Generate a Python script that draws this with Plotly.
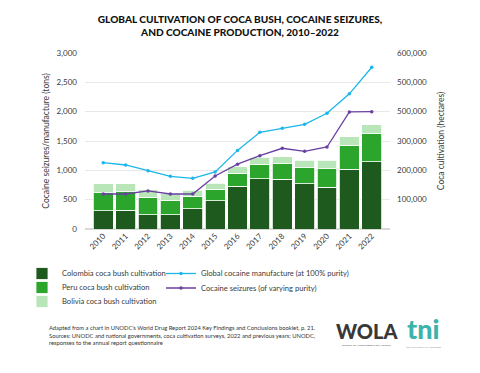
import plotly.graph_objects as go

years = [str(y) for y in range(2010, 2023)]
colombia_ha = [62000, 64000, 48000, 48000, 69000, 96000, 146000, 171000, 169000, 154000, 143000, 204000, 230000]
peru_ha = [61200, 62500, 60400, 49800, 42900, 40300, 43900, 49900, 54100, 54700, 61800, 80700, 95000]
bolivia_ha = [31000, 27200, 25300, 23000, 20400, 20200, 23100, 24500, 23100, 25500, 29400, 30500, 29900]
manufacture_t = [1130, 1091, 994, 898, 864, 972, 1340, 1649, 1717, 1785, 1973, 2304, 2757]
seizures_t = [597, 597, 648, 597, 597, 904, 1105, 1250, 1376, 1325, 1398, 1995, 2000]

left_tickvals = [0, 500, 1000, 1500, 2000, 2500, 3000]
left_ticktext = ["0", "500", "1,000", "1,500", "2,000", "2,500", "3,000"]
right_tickvals = [100000, 200000, 300000, 400000, 500000, 600000]
right_ticktext = ["100,000", "200,000", "300,000", "500,000", "500,000", "600,000"]

FONT = "Lato"
TXT = "#3a3a3a"

# page body adds an 8px offset; work in reference-pixel coordinates
OFF = 8
W, H = 480 - OFF, 373 - OFF
PL, PR, PT, PB = 85, 390, 53, 229          # plot area in reference pixels
L, R, T, B = PL - OFF, W - (PR - OFF), PT - OFF, H - (PB - OFF)
pw, ph = PR - PL, PB - PT

def px(xp):
    return (xp - PL) / pw

def py(yp):
    return (PB - yp) / ph

fig = go.Figure()
bar_specs = [
    ("Colombia coca bush cultivation", colombia_ha, "#1e5a1e", "legend", 273.5),
    ("Peru coca bush cultivation", peru_ha, "#2ba52b", "legend2", 287.5),
    ("Bolivia coca bush cultivation", bolivia_ha, "#b8e6b8", "legend3", 301.5),
]
for name, vals, col, lg, _ in bar_specs:
    fig.add_trace(go.Bar(
        x=years, y=vals, name=name, yaxis="y", legend=lg,
        marker=dict(color=col, line=dict(color="white", width=0.8)),
    ))

line_specs = [
    ("Global cocaine manufacture (at 100% purity)", manufacture_t, "#1bb6ea", "legend4", 273.5),
    ("Cocaine seizures (of varying purity)", seizures_t, "#6a3fa3", "legend5", 288),
]
for name, vals, col, lg, _ in line_specs:
    fig.add_trace(go.Scatter(
        x=years, y=vals, name=name, yaxis="y2", legend=lg, mode="lines+markers",
        line=dict(color=col, width=1.3), marker=dict(size=3.5, color=col),
    ))

legends = {}
for _, _, _, lg, yy in bar_specs:
    legends[lg] = dict(x=px(22), y=py(yy), xanchor="left", yanchor="middle",
                       font=dict(size=7.6, color=TXT), bgcolor="rgba(0,0,0,0)", borderwidth=0)
for _, _, _, lg, yy in line_specs:
    legends[lg] = dict(x=px(161), y=py(yy), xanchor="left", yanchor="middle",
                       font=dict(size=7.6, color=TXT), bgcolor="rgba(0,0,0,0)", borderwidth=0)

annotations = [
    dict(text="Adapted from a chart in UNODC\u2019s World Drug Report 2024 Key Findings and Conclusions booklet, p. 21.<br>"
              "Sources: UNODC and national governments, coca cultivation surveys, 2022 and previous years; UNODC,<br>"
              "responses to the annual report questionnaire",
         x=px(47), y=py(335), xref="paper", yref="paper", xanchor="left", yanchor="middle",
         align="left", showarrow=False, font=dict(family=FONT, size=5.8, color="#333")),
    dict(text="WOLA", x=px(366.5), y=py(330.5), xref="paper", yref="paper",
         xanchor="center", yanchor="middle", showarrow=False,
         font=dict(family="Lato", size=20, color="#383838", weight=900)),
    dict(text="Advocacy for Human Rights in the Americas", x=px(366.5), y=py(345), xref="paper", yref="paper",
         xanchor="center", yanchor="middle", showarrow=False,
         font=dict(family=FONT, size=2.6, color="#555")),
    dict(text="tni", x=px(423), y=py(328.5), xref="paper", yref="paper",
         xanchor="center", yanchor="middle", showarrow=False,
         font=dict(family="Lato", size=27, color="#3db3ac", weight=900)),
    dict(text="TRANSNATIONAL INSTITUTE", x=px(423), y=py(347), xref="paper", yref="paper",
         xanchor="center", yanchor="middle", showarrow=False,
         font=dict(family=FONT, size=2.6, color="#888")),
]

fig.update_layout(
    width=W, height=H,
    margin=dict(l=L, r=R, t=T, b=B, pad=0, autoexpand=False),
    paper_bgcolor="white", plot_bgcolor="white",
    font=dict(family=FONT, size=8, color=TXT),
    barmode="stack", bargap=0.11,
    title=dict(text="GLOBAL CULTIVATION OF COCA BUSH, COCAINE SEIZURES,<br>AND COCAINE PRODUCTION, 2010\u20132022",
               x=(240 - OFF) / W, xanchor="center", xref="container",
               y=1 - (23 - OFF) / H, yref="container", yanchor="middle",
               font=dict(family=FONT, size=10.1, color="#111", weight=900)),
    xaxis=dict(type="category", tickangle=-45, showgrid=False, showline=False, ticks="", automargin=False,
               tickfont=dict(size=8, color=TXT)),
    yaxis=dict(side="right", range=[0, 600000], tickvals=right_tickvals, ticktext=right_ticktext,
               showgrid=True, gridcolor="#e8e8e8", gridwidth=1, zeroline=True, zerolinecolor="#d8d8d8",
               ticks="", ticklabelstandoff=6, automargin=False,
               title=dict(text="Coca cultivation (hectares)", standoff=12, font=dict(size=8.5, color=TXT)),
               tickfont=dict(size=8, color=TXT)),
    yaxis2=dict(side="left", overlaying="y", range=[0, 3000], tickvals=left_tickvals, ticktext=left_ticktext,
                showgrid=False, zeroline=False, ticks="", ticklabelstandoff=7, automargin=False,
                title=dict(text="Cocaine seizures/manufacture (tons)", standoff=5, font=dict(size=8.5, color=TXT)),
                tickfont=dict(size=8, color=TXT)),
    annotations=annotations,
    showlegend=True,
    **legends,
)

fig.write_html("out.html")
